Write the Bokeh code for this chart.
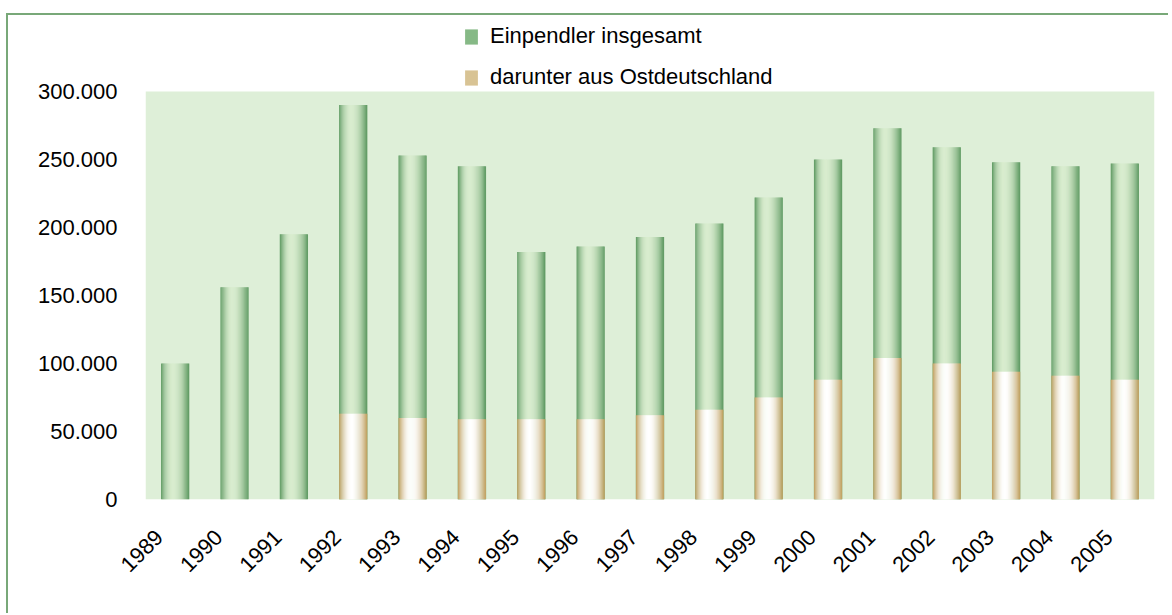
import numpy as np
from bokeh.plotting import figure
from bokeh.models import FixedTicker, Legend, LegendItem, Range1d, BoxAnnotation
from bokeh.embed import file_html
from bokeh.resources import INLINE

years = [str(y) for y in range(1989, 2006)]
total = [100000, 156000, 195000, 290000, 253000, 245000, 182000, 186000,
         193000, 203000, 222000, 250000, 273000, 259000, 248000, 245000, 247000]
east = [0, 0, 0, 63000, 60000, 59000, 59000, 59000,
        62000, 66000, 75000, 88000, 104000, 100000, 94000, 91000, 88000]
ytick_values = [0, 50000, 100000, 150000, 200000, 250000, 300000]
ytick_labels = ["0", "50.000", "100.000", "150.000", "200.000", "250.000", "300.000"]
legend_labels = ["Einpendler insgesamt", "darunter aus Ostdeutschland"]

FONT = "Liberation Sans"
FS = "22px"
GREEN_EDGE = (92, 152, 96)
GREEN_LIGHT = (216, 236, 206)
TAN_EDGE = (190, 158, 92)
TAN_LIGHT = (255, 255, 255)

Y_MAX = ytick_values[-1]
PLOT_H = 408          # pixel height of the value area (0..Y_MAX)
FRAME_H = 484         # frame extends above the value area to hold the legend
Y_END = Y_MAX * FRAME_H / PLOT_H


def shade(edge, light, t, peak):
    d = (t - peak) / peak if t < peak else (t - peak) / (1 - peak)
    f = 1 - abs(d) ** 2.0
    c = [int(round(e + (l - e) * f)) for e, l in zip(edge, light)]
    return "#%02x%02x%02x" % tuple(c)


p = figure(width=1162, height=600, output_backend="svg", toolbar_location=None,
           x_range=Range1d(-0.5, len(years) - 0.5), y_range=Range1d(0, Y_END),
           min_border_left=137, min_border_right=16, min_border_top=0,
           min_border_bottom=116)
p.styles = {"border-left": "2px solid #78a878", "border-top": "2px solid #78a878",
            "margin-top": "13px", "margin-left": "6px"}
p.background_fill_color = "white"
p.border_fill_color = "white"
p.outline_line_color = None
p.xgrid.visible = False
p.ygrid.visible = False

p.add_layout(BoxAnnotation(bottom=0, top=Y_MAX, fill_color="#deefd8", fill_alpha=1.0,
                           line_color=None, level="underlay"))

idx = np.arange(len(years))
W = 0.47
N = 26
sw = W / N
for j in range(N):
    t = (j + 0.5) / N
    off = -W / 2 + (j + 0.5) * sw
    p.vbar(x=idx + off, top=total, bottom=0, width=sw * 1.35,
           fill_color=shade(GREEN_EDGE, GREEN_LIGHT, t, 0.42), line_color=None)
for j in range(N):
    t = (j + 0.5) / N
    off = -W / 2 + (j + 0.5) * sw
    p.vbar(x=idx + off, top=east, bottom=0, width=sw * 1.35,
           fill_color=shade(TAN_EDGE, TAN_LIGHT, t, 0.45), line_color=None)

# legend icons (zero-height proxies)
lg1 = p.vbar(x=[0], top=[0], bottom=[0], width=0.01, fill_color="#86b986", line_color=None)
lg2 = p.vbar(x=[0], top=[0], bottom=[0], width=0.01, fill_color="#d8c394", line_color=None)
legend = Legend(items=[LegendItem(label=legend_labels[0], renderers=[lg1]),
                       LegendItem(label=legend_labels[1], renderers=[lg2])],
                location=(318, 409), orientation="vertical")
legend.glyph_width = 16
legend.glyph_height = 19
legend.label_height = 19
legend.label_standoff = 11
legend.spacing = 15
legend.padding = 0
legend.margin = 0
legend.border_line_color = None
legend.background_fill_alpha = 0
legend.label_text_font = FONT
legend.label_text_font_size = FS
legend.label_text_color = "#000000"
p.add_layout(legend, "center")

xt = [float(i) - 0.27 for i in idx]
p.xaxis.ticker = FixedTicker(ticks=xt)
p.xaxis.major_label_overrides = {v: y for v, y in zip(xt, years)}
p.xaxis.major_label_orientation = np.pi / 4
p.yaxis.ticker = FixedTicker(ticks=ytick_values)
p.yaxis.major_label_overrides = {v: l for v, l in zip(ytick_values, ytick_labels)}
for ax in (p.xaxis, p.yaxis):
    ax.axis_line_color = None
    ax.major_tick_line_color = None
    ax.minor_tick_line_color = None
    ax.major_label_text_font = FONT
    ax.major_label_text_font_size = FS
    ax.major_label_text_color = "#000000"
p.yaxis.major_label_standoff = 22
p.xaxis.major_label_standoff = 28

open("out.html", "w").write(file_html(p, INLINE))
